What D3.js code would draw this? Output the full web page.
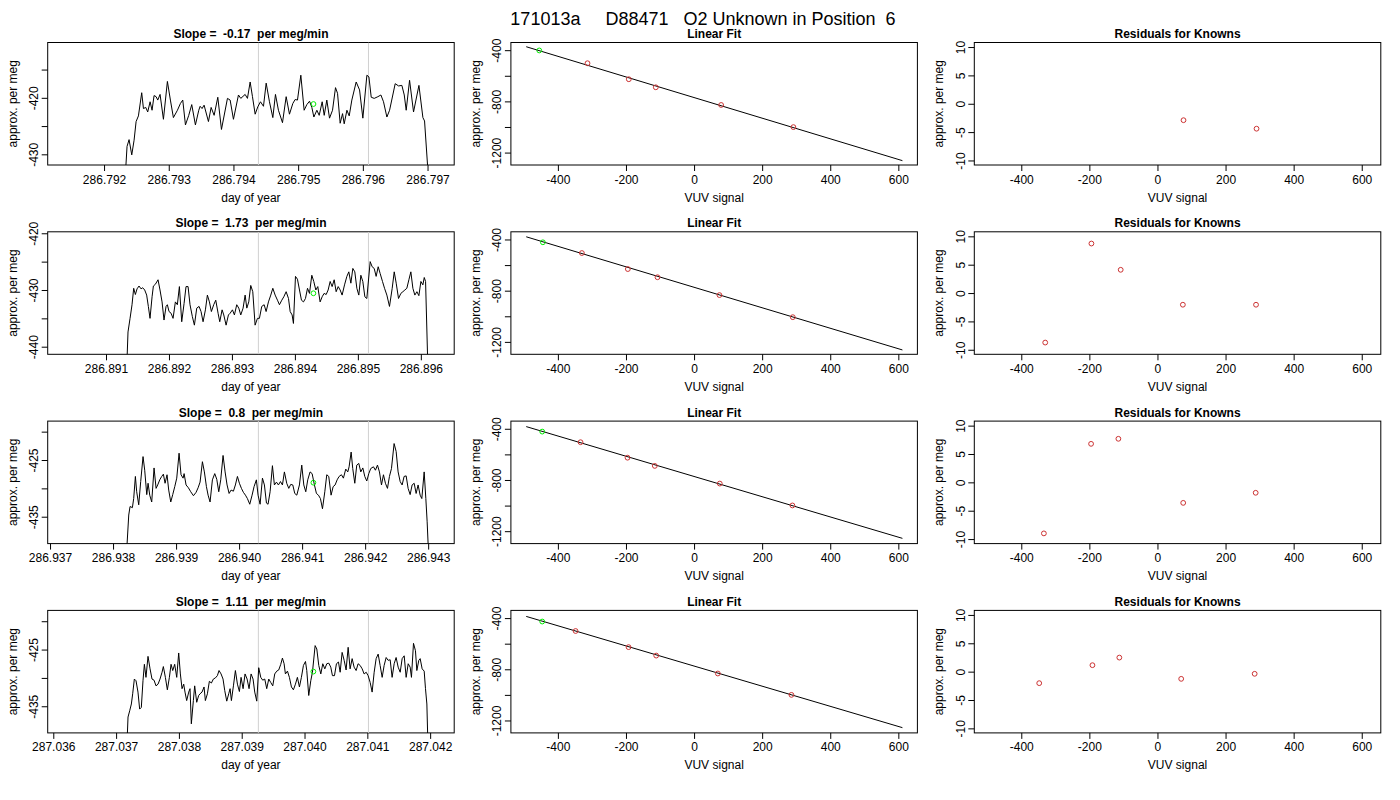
<!DOCTYPE html>
<html>
<head>
<meta charset="utf-8">
<script src="https://cdn.jsdelivr.net/npm/d3@7"></script>
<style>
body { margin: 0; background: #fff; }
svg text { font-family: "Liberation Sans", Arial, Helvetica, sans-serif; }
</style>
</head>
<body>
<svg id="fig" width="1400" height="800"></svg>
<script>
// ---- values ----
var mainTitle = "171013a     D88471   O2 Unknown in Position  6";
var slopes = ["-0.17", "1.73", "0.8", "1.11"];

// time series: [seconds after tsStartDay, approx. per meg]
var tsStartDay = [286.792, 286.891, 286.937, 287.036];
var ts1 = [[28.5,-433.5],[30.7,-428.6],[33.4,-427.4],[37.0,-430.1],[40.1,-427.5],[42.8,-424.2],[45.9,-423.2],[50.3,-419.1],[52.6,-421.9],[55.7,-421.7],[58.3,-422.5],[61.5,-420.7],[64.1,-422.2],[66.8,-419.6],[69.5,-419.8],[71.7,-420.4],[74.8,-419.4],[79.3,-423.8],[84.6,-417.1],[88.6,-420.4],[92.6,-423.5],[98.0,-422.2],[102.0,-421.0],[105.1,-420.4],[108.7,-424.8],[113.1,-423.1],[117.1,-421.2],[122.0,-424.8],[126.5,-422.2],[128.3,-421.5],[130.9,-421.9],[133.6,-421.3],[139.4,-424.2],[143.0,-421.7],[147.0,-423.1],[151.9,-419.9],[156.8,-425.6],[164.8,-420.1],[168.4,-420.4],[172.8,-423.8],[179.5,-419.5],[182.6,-420.1],[188.4,-419.4],[191.5,-420.1],[195.1,-417.2],[198.2,-419.8],[201.8,-422.9],[205.3,-421.6],[208.9,-420.7],[212.9,-421.5],[216.5,-417.4],[220.9,-420.7],[225.4,-423.5],[228.9,-419.4],[232.9,-422.2],[238.3,-424.4],[243.2,-419.8],[247.6,-422.9],[252.1,-421.0],[255.2,-420.3],[258.3,-420.4],[262.8,-416.0],[267.2,-422.2],[270.8,-421.2],[274.4,-420.6],[277.5,-421.7],[280.2,-423.4],[284.2,-422.2],[287.3,-423.1],[291.3,-420.7],[294.0,-423.1],[297.5,-420.4],[301.1,-423.6],[305.1,-422.2],[309.1,-418.2],[311.8,-419.2],[315.3,-424.5],[318.5,-422.8],[320.7,-424.6],[324.3,-422.2],[327.4,-423.2],[330.9,-420.4],[336.7,-417.2],[341.2,-418.6],[345.6,-423.6],[351.0,-416.0],[353.7,-416.3],[356.8,-419.9],[360.8,-420.1],[365.7,-419.8],[369.7,-419.5],[373.2,-420.7],[377.7,-423.4],[381.3,-422.2],[388.8,-417.5],[393.3,-417.9],[397.7,-417.8],[400.9,-419.5],[403.5,-422.2],[408.0,-416.9],[413.3,-422.5],[420.5,-417.8],[425.8,-423.5],[428.0,-424.1],[432.0,-431.9],[433.4,-435.7]];
var ts2 = [[28.4,-443.8],[30.2,-437.4],[33.0,-435.0],[35.7,-432.6],[38.0,-429.7],[40.3,-430.8],[42.6,-429.8],[45.3,-429.3],[48.1,-429.8],[50.3,-429.6],[53.1,-430.0],[55.8,-430.9],[58.1,-432.9],[60.4,-435.0],[63.2,-431.2],[65.0,-429.3],[67.7,-429.0],[71.4,-428.2],[74.1,-430.0],[76.9,-432.1],[79.6,-435.3],[82.4,-432.9],[84.2,-432.6],[86.5,-433.8],[89.3,-434.1],[92.0,-435.0],[95.2,-432.1],[97.9,-432.6],[100.7,-429.4],[103.9,-435.6],[107.1,-432.4],[109.8,-429.4],[112.6,-429.4],[115.3,-432.6],[118.5,-434.7],[121.3,-436.2],[124.5,-433.2],[127.7,-432.9],[130.4,-433.8],[133.2,-435.6],[136.4,-433.5],[139.1,-430.9],[141.9,-432.1],[144.6,-433.8],[147.8,-432.6],[150.6,-431.8],[153.8,-434.1],[156.1,-435.6],[159.3,-433.5],[161.6,-434.4],[164.8,-436.2],[168.0,-434.4],[170.3,-434.1],[173.5,-433.5],[176.2,-434.4],[179.4,-432.6],[182.2,-433.2],[184.9,-434.4],[188.1,-433.2],[190.9,-430.9],[193.2,-433.2],[195.9,-432.1],[198.6,-429.2],[201.4,-430.3],[204.6,-436.2],[207.8,-435.0],[210.5,-435.0],[213.7,-432.9],[217.0,-432.6],[219.7,-433.8],[222.9,-432.1],[226.1,-430.9],[228.9,-429.7],[232.1,-430.9],[235.3,-431.8],[238.0,-432.6],[241.2,-431.8],[244.0,-431.2],[247.2,-430.3],[250.4,-431.5],[252.7,-433.8],[255.4,-434.4],[257.2,-435.9],[260.0,-427.6],[262.7,-428.1],[265.5,-430.0],[268.2,-431.8],[271.0,-432.1],[273.7,-431.5],[276.5,-429.7],[279.2,-430.6],[282.4,-427.4],[285.1,-428.5],[287.9,-430.0],[290.6,-429.4],[293.8,-432.1],[296.6,-431.2],[299.3,-430.6],[302.1,-430.8],[304.8,-430.0],[307.6,-428.5],[310.3,-429.4],[313.1,-428.2],[315.8,-430.3],[318.6,-429.4],[321.3,-430.0],[324.0,-430.9],[327.3,-429.1],[330.5,-427.6],[333.2,-426.8],[336.0,-428.8],[338.7,-426.2],[341.4,-426.8],[344.2,-429.7],[346.9,-430.9],[349.7,-427.4],[352.4,-428.5],[355.2,-431.2],[357.9,-431.5],[362.5,-425.0],[365.2,-425.9],[368.0,-426.2],[370.7,-427.6],[373.5,-425.9],[376.2,-427.1],[379.4,-428.5],[382.2,-429.7],[385.4,-430.9],[389.0,-432.9],[392.7,-429.7],[395.5,-426.8],[398.2,-428.8],[401.4,-431.5],[404.6,-430.6],[407.4,-430.3],[410.1,-430.0],[412.8,-429.7],[415.6,-428.2],[418.3,-426.8],[421.1,-429.7],[423.8,-430.9],[426.6,-430.3],[429.3,-431.0],[432.1,-428.5],[434.8,-429.1],[436.7,-427.8],[438.5,-428.5],[441.2,-441.5],[442.1,-443.8]];
var ts3 = [[104.7,-441.8],[107.9,-434.7],[109.7,-433.2],[112.9,-433.4],[114.7,-431.8],[117.0,-427.9],[118.8,-430.6],[121.6,-432.9],[124.3,-428.8],[127.5,-424.4],[129.8,-426.8],[132.6,-431.1],[134.4,-429.1],[136.7,-431.2],[139.4,-432.4],[142.6,-426.4],[145.4,-430.0],[147.6,-429.4],[150.4,-428.5],[153.1,-427.9],[155.4,-427.5],[157.7,-429.1],[160.4,-427.6],[162.7,-430.3],[165.5,-432.4],[168.2,-431.1],[171.0,-429.7],[173.7,-428.2],[176.9,-423.8],[179.6,-427.6],[182.4,-428.2],[183.8,-427.4],[186.5,-429.4],[189.7,-429.9],[192.9,-430.6],[196.6,-431.3],[200.2,-430.7],[203.0,-429.9],[205.7,-428.9],[208.9,-425.3],[211.6,-427.1],[214.4,-429.7],[216.7,-431.2],[219.4,-432.4],[222.6,-428.5],[225.8,-427.4],[228.6,-428.4],[231.3,-430.6],[234.0,-428.5],[237.2,-424.2],[240.0,-427.1],[242.7,-429.4],[245.5,-430.9],[248.2,-430.3],[251.4,-430.5],[254.1,-429.4],[256.9,-427.9],[259.6,-429.1],[262.4,-430.0],[265.1,-430.7],[267.9,-431.2],[270.6,-431.8],[273.8,-432.8],[277.0,-431.2],[279.7,-429.7],[282.9,-428.5],[285.2,-431.2],[288.0,-432.8],[291.2,-428.2],[293.9,-429.4],[296.7,-432.6],[298.9,-432.8],[301.7,-430.6],[304.9,-426.0],[307.6,-429.4],[310.4,-428.9],[313.1,-429.4],[315.9,-428.8],[318.6,-429.4],[321.3,-427.1],[324.5,-429.1],[327.3,-430.0],[330.0,-429.3],[332.8,-429.4],[335.5,-430.9],[338.3,-431.2],[341.9,-429.4],[345.1,-425.9],[347.9,-429.4],[350.6,-430.6],[353.3,-428.5],[356.5,-427.1],[359.3,-427.4],[362.5,-429.4],[365.2,-430.9],[368.0,-431.2],[370.7,-431.8],[373.5,-433.6],[376.7,-430.6],[379.4,-427.6],[382.1,-427.9],[385.3,-431.2],[388.1,-429.7],[390.8,-429.4],[393.6,-428.5],[396.3,-427.9],[399.5,-427.6],[402.2,-428.2],[405.4,-426.6],[408.2,-427.1],[410.0,-426.2],[412.8,-423.6],[415.0,-426.5],[417.8,-429.1],[420.5,-425.9],[423.3,-425.6],[426.0,-427.1],[428.8,-426.4],[431.5,-427.9],[434.2,-428.7],[437.0,-427.4],[439.7,-426.5],[443.4,-426.2],[446.1,-426.8],[448.9,-425.9],[451.6,-427.1],[454.4,-429.4],[457.1,-427.6],[459.8,-429.1],[462.6,-430.0],[465.3,-427.9],[468.1,-426.5],[471.7,-422.1],[474.5,-423.5],[477.2,-427.1],[480.0,-428.8],[482.7,-429.4],[485.4,-427.9],[488.2,-427.8],[490.9,-430.0],[493.7,-431.1],[496.4,-429.4],[499.2,-429.1],[501.9,-430.9],[504.6,-429.4],[507.4,-431.2],[509.7,-431.8],[512.9,-427.1],[515.2,-431.8],[517.0,-435.9],[518.8,-441.2]];
var ts4 = [[101.4,-441.6],[102.8,-436.9],[105.1,-435.8],[107.4,-434.6],[109.2,-432.8],[111.5,-430.2],[113.8,-430.5],[116.5,-432.5],[118.8,-435.5],[121.1,-435.2],[123.4,-430.5],[125.3,-427.6],[127.5,-429.9],[130.3,-426.2],[133.1,-428.4],[135.8,-430.2],[138.6,-430.4],[141.3,-431.4],[144.1,-431.1],[146.8,-430.2],[149.6,-429.0],[151.4,-428.0],[154.2,-429.9],[156.9,-432.1],[159.7,-429.9],[162.0,-427.6],[164.3,-428.7],[167.0,-427.6],[169.8,-429.9],[172.5,-425.6],[174.8,-429.3],[177.1,-431.9],[179.4,-431.1],[181.2,-432.5],[183.5,-434.0],[186.3,-432.5],[188.1,-431.9],[189.9,-438.1],[192.7,-434.0],[194.5,-431.4],[197.3,-434.3],[200.0,-433.1],[201.9,-432.8],[204.6,-432.5],[207.4,-431.6],[209.2,-434.0],[212.0,-432.8],[214.7,-430.6],[217.5,-430.9],[220.2,-430.2],[223.0,-430.0],[225.7,-429.6],[228.0,-428.7],[230.8,-429.3],[233.5,-430.2],[235.8,-432.2],[238.6,-434.1],[241.3,-432.8],[243.2,-431.9],[245.0,-434.0],[247.8,-431.4],[250.5,-428.7],[253.3,-431.1],[256.0,-432.4],[258.3,-429.9],[261.1,-431.9],[263.8,-429.3],[266.6,-430.2],[269.3,-431.9],[272.1,-429.3],[274.8,-430.2],[277.1,-432.5],[279.9,-434.1],[282.6,-428.2],[285.4,-429.9],[288.1,-430.4],[290.9,-430.2],[293.6,-431.9],[296.4,-430.2],[299.1,-430.8],[301.9,-431.4],[304.6,-429.3],[307.4,-428.8],[310.1,-428.6],[312.9,-427.6],[315.2,-426.5],[317.5,-427.5],[319.3,-429.3],[322.1,-428.8],[324.8,-429.9],[327.6,-431.6],[330.3,-432.1],[333.1,-431.1],[335.8,-429.9],[338.6,-431.6],[341.3,-429.9],[344.1,-427.8],[346.9,-427.1],[348.7,-428.7],[351.4,-433.1],[354.2,-430.5],[356.5,-429.0],[360.2,-424.3],[362.5,-424.9],[365.2,-427.8],[368.0,-429.3],[370.7,-427.5],[373.5,-428.4],[376.2,-427.5],[379.0,-427.4],[381.7,-428.1],[384.0,-429.6],[386.8,-429.6],[389.5,-427.5],[392.3,-427.2],[394.6,-429.0],[397.3,-425.5],[400.1,-426.9],[402.8,-428.6],[405.6,-424.6],[408.3,-428.4],[411.1,-426.6],[413.8,-428.1],[416.6,-428.7],[419.3,-427.5],[422.1,-427.8],[424.9,-428.4],[427.6,-429.3],[430.4,-429.0],[433.1,-429.6],[435.9,-430.8],[438.6,-432.5],[441.4,-429.0],[444.1,-426.6],[446.9,-425.8],[449.6,-427.8],[452.4,-429.9],[455.1,-427.8],[457.9,-426.4],[460.6,-426.9],[463.4,-426.8],[466.1,-429.9],[468.9,-427.5],[471.6,-426.4],[474.4,-428.1],[477.2,-429.0],[479.9,-426.6],[482.7,-426.1],[485.4,-429.9],[488.2,-427.5],[490.9,-428.1],[492.7,-429.9],[495.5,-423.9],[498.2,-425.2],[500.1,-428.7],[502.8,-426.9],[504.7,-426.6],[507.4,-428.4],[510.2,-428.8],[512.0,-431.9],[513.9,-434.6],[515.2,-441.1]];
var tsSeries = [ts1, ts2, ts3, ts4];

// unknown sample marker and window limits (day of year)
var tsMarkDay = [286.795237, 286.894294, 286.941179, 287.040141];
var tsMarkVal = [-421.1, -430.58, -429.0, -428.88];
var tsWindow = [[286.794386, 286.796087], [286.893420, 286.895168], [286.940306, 286.942052], [287.039265, 287.041018]];

// axis ranges and ticks of the time panels
var tsXDomain = [[286.791129, 286.797412], [286.890074, 286.896530], [286.936963, 286.943413], [287.035911, 287.042383]];
var tsYDomain = [[-431.89, -410.21], [-441.34, -419.74], [-439.74, -418.14], [-439.70, -418.09]];
var tsXTicks = [
  [286.792, 286.793, 286.794, 286.795, 286.796, 286.797],
  [286.891, 286.892, 286.893, 286.894, 286.895, 286.896],
  [286.937, 286.938, 286.939, 286.940, 286.941, 286.942, 286.943],
  [287.036, 287.037, 287.038, 287.039, 287.040, 287.041, 287.042]
];
var tsYTicks = [[-430, -425, -420, -415], [-440, -435, -430, -425, -420], [-435, -430, -425, -420], [-435, -430, -425, -420]];
var tsYLabelled = [[-430, -420], [-440, -430, -420], [-435, -425], [-435, -425]];

// linear fit: [VUV signal, approx. per meg]
var fitGreen = [[-454.7, -402], [-444, -422], [-446, -422], [-446, -427]];
var fitKnowns = [
  [[-313, -502], [-191.7, -627], [-112.4, -690], [79.5, -828], [291.8, -1001]],
  [[-329.5, -506], [-194.5, -631], [-107.4, -695], [74.6, -834.5], [290, -1007]],
  [[-333.4, -505], [-195.4, -626], [-115.3, -690], [75.5, -828], [288.9, -999]],
  [[-348, -501], [-192.4, -627], [-111.2, -693], [69.8, -833], [286, -1000]]
];
var fitLineX = [-493, 612];
var fitLineY = [[-373, -1263], [-379, -1263], [-383, -1256], [-387, -1256]];
var vuvDomain = [-538, 656];
var vuvTicks = [-400, -200, 0, 200, 400, 600];
var fitYDomain = [-1297, -340];
var fitYTicks = [-1200, -1000, -800, -600, -400];
var fitYLabelled = [-1200, -800, -400];

// residuals for knowns
var residuals = [
  [[76.5, -2.9], [291, -4.4]],
  [[-329.7, -8.73], [-194, 8.73], [-108, 4.1], [74.6, -2.06], [289.5, -2.06]],
  [[-333.6, -9.0], [-195, 6.79], [-114.8, 7.68], [75.6, -3.62], [288.5, -1.84]],
  [[-347.3, -2.03], [-191, 1.14], [-112, 2.48], [69.7, -1.27], [285.5, -0.38]]
];
var resYDomain = [-10.8, 10.8];
var resYTicks = [-10, -5, 0, 5, 10];

// ---- layout ----
var colLeft = [47.7, 510.9, 974.3];
var boxW = 406.5, boxH = 122.5;
var rowTop0 = 42.5, rowStep = 189.3;
var redCol = "#cc3333", greenCol = "#00ee00";

function intLabel(d) { return String(d); }   // plain hyphen minus, as in R

function drawFigure() {
  var svg = d3.select("#fig");
  var clipN = 0;

  svg.append("text")
    .attr("x", 703).attr("y", 25)
    .attr("text-anchor", "middle")
    .attr("xml:space", "preserve")
    .style("white-space", "pre")
    .style("font-size", "18px")
    .text(mainTitle);

  function frame(left, y0, xs, ys, cfg) {
    var g = svg.append("g");

    var ax = g.append("g")
      .attr("transform", "translate(0," + (y0 + boxH) + ")")
      .call(d3.axisBottom(xs).tickValues(cfg.xTicks).tickFormat(cfg.xFmt).tickSize(6).tickSizeOuter(0));
    ax.select(".domain").remove();
    ax.attr("font-family", null).attr("font-size", 12);
    ax.selectAll(".tick text").attr("y", 18.5).attr("dy", 0);

    var ay = g.append("g")
      .attr("transform", "translate(" + left + ",0)")
      .call(d3.axisLeft(ys).tickValues(cfg.yTicks).tickFormat(intLabel).tickSize(6).tickSizeOuter(0));
    ay.select(".domain").remove();
    ay.attr("font-family", null).attr("font-size", 12);
    ay.selectAll(".tick text")
      .attr("transform", "rotate(-90)")
      .attr("x", 0).attr("y", -9.5).attr("dy", 0)
      .attr("text-anchor", "middle")
      .text(function (d) { return cfg.yLabelled.indexOf(d) >= 0 ? intLabel(d) : ""; });

    g.append("rect")
      .attr("x", left).attr("y", y0).attr("width", boxW).attr("height", boxH)
      .attr("fill", "none").attr("stroke", "#000").attr("stroke-width", 1);

    g.append("text")
      .attr("x", left + boxW / 2).attr("y", y0 - 4.5)
      .attr("text-anchor", "middle")
      .attr("xml:space", "preserve")
      .style("white-space", "pre")
      .style("font-size", "12px").style("font-weight", "bold")
      .text(cfg.title);

    g.append("text")
      .attr("x", left + boxW / 2).attr("y", y0 + boxH + 36.5)
      .attr("text-anchor", "middle")
      .style("font-size", "12px")
      .text(cfg.xLabel);

    g.append("text")
      .attr("transform", "translate(" + (left - 31) + "," + (y0 + boxH / 2) + ") rotate(-90)")
      .attr("text-anchor", "middle")
      .style("font-size", "12px")
      .text("approx. per meg");

    var id = "clip" + (clipN++);
    svg.append("clipPath").attr("id", id)
      .append("rect").attr("x", left).attr("y", y0).attr("width", boxW).attr("height", boxH);
    return g.append("g").attr("clip-path", "url(#" + id + ")");
  }

  function ring(layer, xs, ys, pts, col) {
    layer.selectAll(null).data(pts).enter().append("circle")
      .attr("cx", function (d) { return xs(d[0]); })
      .attr("cy", function (d) { return ys(d[1]); })
      .attr("r", 2.4)
      .attr("fill", "none").attr("stroke", col).attr("stroke-width", 1);
  }

  for (var r = 0; r < 4; r++) {
    var y0 = rowTop0 + r * rowStep;

    // --- time series panel ---
    var day0 = tsStartDay[r];
    var xs = d3.scaleLinear().domain(tsXDomain[r]).range([colLeft[0], colLeft[0] + boxW]);
    var ys = d3.scaleLinear().domain(tsYDomain[r]).range([y0 + boxH, y0]);
    var p = frame(colLeft[0], y0, xs, ys, {
      title: "Slope =  " + slopes[r] + "  per meg/min",
      xLabel: "day of year",
      xTicks: tsXTicks[r], xFmt: d3.format(".3f"),
      yTicks: tsYTicks[r], yLabelled: tsYLabelled[r]
    });
    p.selectAll(null).data(tsWindow[r]).enter().append("line")
      .attr("x1", function (d) { return xs(d); }).attr("x2", function (d) { return xs(d); })
      .attr("y1", y0).attr("y2", y0 + boxH)
      .attr("stroke", "#d0d0d0").attr("stroke-width", 1);
    p.append("path")
      .datum(tsSeries[r])
      .attr("fill", "none").attr("stroke", "#000").attr("stroke-width", 1)
      .attr("stroke-linejoin", "round")
      .attr("d", d3.line()
        .x(function (d) { return xs(day0 + d[0] / 86400); })
        .y(function (d) { return ys(d[1]); }));
    ring(p, xs, ys, [[tsMarkDay[r], tsMarkVal[r]]], greenCol);

    // --- linear fit panel ---
    var fx = d3.scaleLinear().domain(vuvDomain).range([colLeft[1], colLeft[1] + boxW]);
    var fy = d3.scaleLinear().domain(fitYDomain).range([y0 + boxH, y0]);
    var q = frame(colLeft[1], y0, fx, fy, {
      title: "Linear Fit", xLabel: "VUV signal",
      xTicks: vuvTicks, xFmt: intLabel,
      yTicks: fitYTicks, yLabelled: fitYLabelled
    });
    q.append("line")
      .attr("x1", fx(fitLineX[0])).attr("y1", fy(fitLineY[r][0]))
      .attr("x2", fx(fitLineX[1])).attr("y2", fy(fitLineY[r][1]))
      .attr("stroke", "#000").attr("stroke-width", 1);
    ring(q, fx, fy, fitKnowns[r], redCol);
    ring(q, fx, fy, [fitGreen[r]], greenCol);

    // --- residual panel ---
    var rx = d3.scaleLinear().domain(vuvDomain).range([colLeft[2], colLeft[2] + boxW]);
    var ry = d3.scaleLinear().domain(resYDomain).range([y0 + boxH, y0]);
    var s = frame(colLeft[2], y0, rx, ry, {
      title: "Residuals for Knowns", xLabel: "VUV signal",
      xTicks: vuvTicks, xFmt: intLabel,
      yTicks: resYTicks, yLabelled: resYTicks
    });
    ring(s, rx, ry, residuals[r], redCol);
  }
}

drawFigure();
</script>
</body>
</html>
